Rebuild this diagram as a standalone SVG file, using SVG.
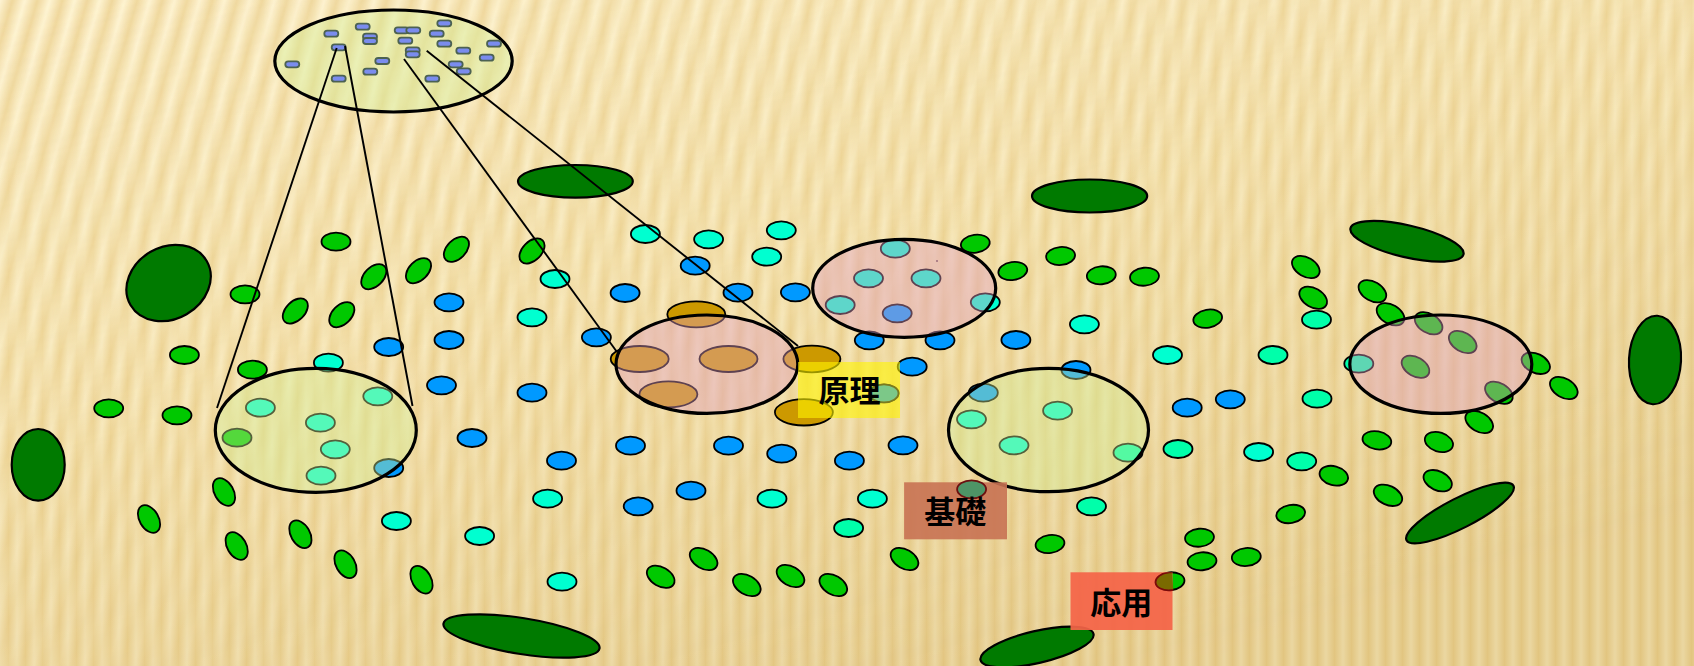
<svg xmlns="http://www.w3.org/2000/svg" xmlns:xlink="http://www.w3.org/1999/xlink" width="1694" height="666" viewBox="0 0 1694 666">
  <defs>
    <style>
      .dg { fill: #007A00; stroke: #000; stroke-width: 2.2; }
      .g  { fill: #00C800; stroke: #000; stroke-width: 1.8; }
      .c  { fill: #00FFD0; stroke: #000; stroke-width: 1.8; }
      .s  { fill: #00FFAA; stroke: #000; stroke-width: 1.8; }
      .b  { fill: #0099FF; stroke: #000; stroke-width: 1.8; }
      .au { fill: #CC9900; stroke: #000; stroke-width: 1.8; }
      .pale { fill: #D2F096; fill-opacity: 0.4; stroke: #000; stroke-width: 3.2; }
      .pink { fill: #E19DC2; fill-opacity: 0.42; stroke: #000; stroke-width: 3.2; }
      .chip { fill: #7A8CEE; stroke: #4C6252; stroke-width: 1.8; }
      .link { stroke: #000; stroke-width: 1.9; fill: none; }
      .lbl  { font-family: "Noto Sans CJK JP", "Noto Sans CJK SC", sans-serif; font-weight: 700; font-size: 31px; fill: #000; text-anchor: middle; }
    </style>
    <linearGradient id="bgGrad" x1="0" y1="0" x2="0.55" y2="1">
      <stop offset="0" stop-color="#FDF1CB"/>
      <stop offset="0.5" stop-color="#F2DEA6"/>
      <stop offset="1" stop-color="#E0C583"/>
    </linearGradient>
    <linearGradient id="band" x1="0" y1="0" x2="1" y2="0">
      <stop offset="0" stop-color="#FFF7DA" stop-opacity="0.6"/>
      <stop offset="0.5" stop-color="#E6C67E" stop-opacity="0.6"/>
      <stop offset="1" stop-color="#FFF7DA" stop-opacity="0.6"/>
    </linearGradient>
    <pattern id="slant" width="24" height="24" patternUnits="userSpaceOnUse" patternTransform="rotate(16)">
      <rect width="24" height="24" fill="url(#band)"/>
    </pattern>
    <pattern id="vert" width="17" height="17" patternUnits="userSpaceOnUse">
      <rect width="17" height="17" fill="url(#band)"/>
    </pattern>
    <linearGradient id="fadeSlant" x1="0" y1="0" x2="0.7" y2="1">
      <stop offset="0" stop-color="#fff" stop-opacity="1"/>
      <stop offset="0.5" stop-color="#fff" stop-opacity="0.45"/>
      <stop offset="1" stop-color="#fff" stop-opacity="0"/>
    </linearGradient>
    <linearGradient id="fadeVert" x1="0" y1="0" x2="0.7" y2="1">
      <stop offset="0" stop-color="#fff" stop-opacity="0"/>
      <stop offset="0.5" stop-color="#fff" stop-opacity="0.45"/>
      <stop offset="1" stop-color="#fff" stop-opacity="0.6"/>
    </linearGradient>
    <mask id="mSlant"><rect width="1694" height="666" fill="url(#fadeSlant)"/></mask>
    <mask id="mVert"><rect width="1694" height="666" fill="url(#fadeVert)"/></mask>
    <rect id="chipShape" class="chip" x="-7" y="-3" width="14" height="6" rx="3"/>
    <clipPath id="clipApply"><rect x="1070.5" y="572.3" width="102" height="57.7"/></clipPath>
  </defs>

  <!-- textured backdrop -->
  <g id="backdrop">
    <rect width="1694" height="666" fill="url(#bgGrad)"/>
    <rect width="1694" height="666" fill="url(#slant)" mask="url(#mSlant)"/>
    <rect width="1694" height="666" fill="url(#vert)" mask="url(#mVert)"/>
  </g>

  <!-- large dark-green blobs -->
  <g id="blobs">
    <ellipse class="dg" cx="575.4" cy="181.3" rx="57.4" ry="16.3"/>
    <ellipse class="dg" cx="1089.6" cy="196" rx="57.6" ry="16.5"/>
    <ellipse class="dg" cx="1407" cy="241.3" rx="58" ry="16" transform="rotate(13 1407 241.3)"/>
    <ellipse class="dg" cx="1655" cy="360" rx="26" ry="44.3" transform="rotate(3 1655 360)"/>
    <ellipse class="dg" cx="1460" cy="513" rx="60" ry="15" transform="rotate(-27 1460 513)"/>
    <ellipse class="dg" cx="1037" cy="647" rx="58" ry="16" transform="rotate(-13 1037 647)"/>
    <ellipse class="dg" cx="521.5" cy="636" rx="79" ry="18" transform="rotate(9 521.5 636)"/>
    <ellipse class="dg" cx="168.6" cy="283" rx="44" ry="36" transform="rotate(-30 168.6 283)"/>
    <ellipse class="dg" cx="38.2" cy="464.8" rx="26.5" ry="35.8"/>
  </g>

  <!-- scattered small ellipses -->
  <g id="dots">
    <!-- green, flat -->
    <ellipse class="g" cx="336" cy="241.7" rx="14.5" ry="9"/>
    <ellipse class="g" cx="245" cy="294.3" rx="14.5" ry="9"/>
    <ellipse class="g" cx="184.4" cy="355" rx="14.5" ry="9"/>
    <ellipse class="g" cx="252.4" cy="369.7" rx="14.5" ry="9"/>
    <ellipse class="g" cx="108.7" cy="408.3" rx="14.5" ry="9"/>
    <ellipse class="g" cx="177" cy="415.3" rx="14.5" ry="9"/>
    <ellipse class="g" cx="237" cy="437.7" rx="14.5" ry="9"/>
    <ellipse class="g" cx="975.3" cy="243.7" rx="14.5" ry="9" transform="rotate(-8 975.3 243.7)"/>
    <ellipse class="g" cx="1012.8" cy="271" rx="14.5" ry="9" transform="rotate(-8 1012.8 271)"/>
    <ellipse class="g" cx="1060.6" cy="256" rx="14.5" ry="9" transform="rotate(-5 1060.6 256)"/>
    <ellipse class="g" cx="1101.3" cy="275.3" rx="14.5" ry="9" transform="rotate(-5 1101.3 275.3)"/>
    <ellipse class="g" cx="1144.5" cy="276.7" rx="14.5" ry="9" transform="rotate(-5 1144.5 276.7)"/>
    <ellipse class="g" cx="1207.7" cy="318.7" rx="14.5" ry="9" transform="rotate(-10 1207.7 318.7)"/>
    <ellipse class="g" cx="1050" cy="544" rx="14.5" ry="9" transform="rotate(-8 1050 544)"/>
    <ellipse class="g" cx="1199.5" cy="537.7" rx="14.5" ry="9" transform="rotate(-5 1199.5 537.7)"/>
    <ellipse class="g" cx="1246.3" cy="557" rx="14.5" ry="9" transform="rotate(-5 1246.3 557)"/>
    <ellipse class="g" cx="1202" cy="561.3" rx="14.5" ry="9" transform="rotate(-5 1202 561.3)"/>
    <ellipse class="g" cx="1170" cy="581.3" rx="14.5" ry="9" transform="rotate(-5 1170 581.3)"/>
    <ellipse class="g" cx="1290.7" cy="514" rx="14.5" ry="9" transform="rotate(-10 1290.7 514)"/>
    <ellipse class="g" cx="1376.9" cy="440.3" rx="14.5" ry="9" transform="rotate(10 1376.9 440.3)"/>
    <ellipse class="g" cx="1438.9" cy="442" rx="14.5" ry="9.5" transform="rotate(18 1438.9 442)"/>
    <ellipse class="g" cx="1333.8" cy="475.7" rx="14.5" ry="9.5" transform="rotate(15 1333.8 475.7)"/>
    <!-- green, leaning up-right -->
    <ellipse class="g" cx="456.4" cy="249.3" rx="15" ry="9.5" transform="rotate(-45 456.4 249.3)"/>
    <ellipse class="g" cx="532" cy="251" rx="15" ry="9.5" transform="rotate(-45 532 251)"/>
    <ellipse class="g" cx="373.8" cy="276.7" rx="15" ry="9.5" transform="rotate(-45 373.8 276.7)"/>
    <ellipse class="g" cx="418.5" cy="270.7" rx="15" ry="9.5" transform="rotate(-45 418.5 270.7)"/>
    <ellipse class="g" cx="295.3" cy="311" rx="15" ry="9.5" transform="rotate(-45 295.3 311)"/>
    <ellipse class="g" cx="341.8" cy="314.7" rx="15" ry="9.5" transform="rotate(-45 341.8 314.7)"/>
    <!-- green, steep -->
    <ellipse class="g" cx="224" cy="492" rx="15" ry="9.5" transform="rotate(60 224 492)"/>
    <ellipse class="g" cx="149" cy="519" rx="15" ry="9.5" transform="rotate(60 149 519)"/>
    <ellipse class="g" cx="236.7" cy="546" rx="15" ry="9.5" transform="rotate(60 236.7 546)"/>
    <ellipse class="g" cx="300.4" cy="534.3" rx="15" ry="9.5" transform="rotate(60 300.4 534.3)"/>
    <ellipse class="g" cx="345.5" cy="564.3" rx="15" ry="9.5" transform="rotate(60 345.5 564.3)"/>
    <ellipse class="g" cx="421.5" cy="579.7" rx="15" ry="9.5" transform="rotate(60 421.5 579.7)"/>
    <!-- green, leaning down-right -->
    <ellipse class="g" cx="703.6" cy="559" rx="15" ry="9.5" transform="rotate(30 703.6 559)"/>
    <ellipse class="g" cx="660.7" cy="576.7" rx="15" ry="9.5" transform="rotate(30 660.7 576.7)"/>
    <ellipse class="g" cx="746.8" cy="585" rx="15" ry="9.5" transform="rotate(30 746.8 585)"/>
    <ellipse class="g" cx="790.5" cy="576" rx="15" ry="9.5" transform="rotate(30 790.5 576)"/>
    <ellipse class="g" cx="833.3" cy="585" rx="15" ry="9.5" transform="rotate(30 833.3 585)"/>
    <ellipse class="g" cx="904.5" cy="559" rx="15" ry="9.5" transform="rotate(30 904.5 559)"/>
    <ellipse class="g" cx="1305.8" cy="267" rx="15" ry="9.5" transform="rotate(30 1305.8 267)"/>
    <ellipse class="g" cx="1313.2" cy="297.7" rx="15" ry="9.5" transform="rotate(30 1313.2 297.7)"/>
    <ellipse class="g" cx="1372.4" cy="291.3" rx="15" ry="9.5" transform="rotate(30 1372.4 291.3)"/>
    <ellipse class="g" cx="1390.5" cy="314.3" rx="15" ry="9.5" transform="rotate(30 1390.5 314.3)"/>
    <ellipse class="g" cx="1428.6" cy="323.3" rx="15" ry="9.5" transform="rotate(30 1428.6 323.3)"/>
    <ellipse class="g" cx="1462.7" cy="342" rx="15" ry="9.5" transform="rotate(30 1462.7 342)"/>
    <ellipse class="g" cx="1415.5" cy="366.7" rx="15" ry="9.5" transform="rotate(30 1415.5 366.7)"/>
    <ellipse class="g" cx="1498.9" cy="392.7" rx="15" ry="9.5" transform="rotate(30 1498.9 392.7)"/>
    <ellipse class="g" cx="1535.8" cy="363.3" rx="15" ry="9.5" transform="rotate(25 1535.8 363.3)"/>
    <ellipse class="g" cx="1563.8" cy="388" rx="15" ry="9.5" transform="rotate(30 1563.8 388)"/>
    <ellipse class="g" cx="1479.2" cy="422" rx="15" ry="9.5" transform="rotate(30 1479.2 422)"/>
    <ellipse class="g" cx="1437.7" cy="480.7" rx="15" ry="9.5" transform="rotate(25 1437.7 480.7)"/>
    <ellipse class="g" cx="1388" cy="495.3" rx="15" ry="9.5" transform="rotate(25 1388 495.3)"/>

    <!-- cyan -->
    <ellipse class="c" cx="555" cy="279" rx="14.5" ry="9"/>
    <ellipse class="c" cx="532" cy="317.3" rx="14.5" ry="9"/>
    <ellipse class="c" cx="328.4" cy="362.7" rx="14.5" ry="9"/>
    <ellipse class="c" cx="547.6" cy="498.7" rx="14.5" ry="9"/>
    <ellipse class="c" cx="396.4" cy="521" rx="14.5" ry="9"/>
    <ellipse class="c" cx="479.6" cy="536" rx="14.5" ry="9"/>
    <ellipse class="c" cx="562" cy="581.7" rx="14.5" ry="9"/>
    <ellipse class="c" cx="260.4" cy="407.7" rx="14.5" ry="9"/>
    <ellipse class="c" cx="377.8" cy="396.3" rx="14.5" ry="9"/>
    <ellipse class="c" cx="320.4" cy="422.7" rx="14.5" ry="9"/>
    <ellipse class="c" cx="335.3" cy="449.3" rx="14.5" ry="9"/>
    <ellipse class="c" cx="321" cy="475.7" rx="14.5" ry="9"/>
    <ellipse class="c" cx="645.4" cy="234" rx="14.5" ry="9"/>
    <ellipse class="c" cx="708.6" cy="239.3" rx="14.5" ry="9"/>
    <ellipse class="c" cx="781.3" cy="230.3" rx="14.5" ry="9"/>
    <ellipse class="c" cx="766.7" cy="256.7" rx="14.5" ry="9"/>
    <ellipse class="c" cx="1084.4" cy="324.3" rx="14.5" ry="9"/>
    <ellipse class="c" cx="772" cy="498.7" rx="14.5" ry="9"/>
    <ellipse class="c" cx="872.4" cy="498.7" rx="14.5" ry="9"/>
    <ellipse class="c" cx="895.3" cy="248.7" rx="14.5" ry="9"/>
    <ellipse class="c" cx="868.5" cy="278.3" rx="14.5" ry="9"/>
    <ellipse class="c" cx="926" cy="278.3" rx="14.5" ry="9"/>
    <ellipse class="c" cx="840.2" cy="305" rx="14.5" ry="9"/>
    <ellipse class="c" cx="985.3" cy="302.3" rx="14.5" ry="9"/>
    <ellipse class="c" cx="971.5" cy="419.3" rx="14.5" ry="9"/>
    <ellipse class="c" cx="1057.6" cy="410.7" rx="14.5" ry="9"/>
    <ellipse class="c" cx="1014" cy="445.3" rx="14.5" ry="9"/>
    <ellipse class="c" cx="1167.5" cy="355" rx="14.5" ry="9"/>
    <ellipse class="c" cx="1258.6" cy="452" rx="14.5" ry="9"/>
    <!-- spring green -->
    <ellipse class="s" cx="848.6" cy="528" rx="14.5" ry="9"/>
    <ellipse class="s" cx="1128" cy="452.7" rx="14.5" ry="9"/>
    <ellipse class="s" cx="1316.5" cy="319.7" rx="14.5" ry="9"/>
    <ellipse class="s" cx="1273" cy="355" rx="14.5" ry="9"/>
    <ellipse class="s" cx="1317" cy="398.7" rx="14.5" ry="9"/>
    <ellipse class="s" cx="1178" cy="449" rx="14.5" ry="9"/>
    <ellipse class="s" cx="1301.7" cy="461.3" rx="14.5" ry="9"/>
    <ellipse class="s" cx="1091.5" cy="506.3" rx="14.5" ry="9"/>
    <ellipse class="s" cx="1358.8" cy="363.7" rx="14.5" ry="9"/>

    <!-- blue -->
    <ellipse class="b" cx="449" cy="302.3" rx="14.5" ry="9"/>
    <ellipse class="b" cx="449" cy="340" rx="14.5" ry="9"/>
    <ellipse class="b" cx="388.7" cy="347" rx="14.5" ry="9"/>
    <ellipse class="b" cx="441.5" cy="385.3" rx="14.5" ry="9"/>
    <ellipse class="b" cx="532" cy="392.7" rx="14.5" ry="9"/>
    <ellipse class="b" cx="472" cy="438" rx="14.5" ry="9"/>
    <ellipse class="b" cx="561.5" cy="460.7" rx="14.5" ry="9"/>
    <ellipse class="b" cx="388.7" cy="468" rx="14.5" ry="9"/>
    <ellipse class="b" cx="695.2" cy="265.7" rx="14.5" ry="9"/>
    <ellipse class="b" cx="625.1" cy="293" rx="14.5" ry="9"/>
    <ellipse class="b" cx="738" cy="292.7" rx="14.5" ry="9"/>
    <ellipse class="b" cx="795.4" cy="292.3" rx="14.5" ry="9"/>
    <ellipse class="b" cx="596.4" cy="337.3" rx="14.5" ry="9"/>
    <ellipse class="b" cx="869.3" cy="340.3" rx="14.5" ry="9"/>
    <ellipse class="b" cx="940" cy="340.3" rx="14.5" ry="9"/>
    <ellipse class="b" cx="1015.9" cy="340" rx="14.5" ry="9"/>
    <ellipse class="b" cx="912.2" cy="366.7" rx="14.5" ry="9"/>
    <ellipse class="b" cx="1076" cy="370" rx="14.5" ry="9"/>
    <ellipse class="b" cx="630.5" cy="445.7" rx="14.5" ry="9"/>
    <ellipse class="b" cx="728.5" cy="445.7" rx="14.5" ry="9"/>
    <ellipse class="b" cx="781.7" cy="453.7" rx="14.5" ry="9"/>
    <ellipse class="b" cx="849.4" cy="460.7" rx="14.5" ry="9"/>
    <ellipse class="b" cx="903" cy="445.3" rx="14.5" ry="9"/>
    <ellipse class="b" cx="691" cy="490.7" rx="14.5" ry="9"/>
    <ellipse class="b" cx="638.2" cy="506.3" rx="14.5" ry="9"/>
    <ellipse class="b" cx="897.2" cy="313.3" rx="14.5" ry="9"/>
    <ellipse class="b" cx="983.3" cy="392.7" rx="14.5" ry="9"/>
    <ellipse class="b" cx="1187.2" cy="407.7" rx="14.5" ry="9"/>
    <ellipse class="b" cx="1230.3" cy="399.3" rx="14.5" ry="9"/>
    <ellipse class="b" cx="884" cy="393.3" rx="14.5" ry="9"/>

    <!-- gold -->
    <ellipse class="au" cx="696.3" cy="314.3" rx="29" ry="13"/>
    <ellipse class="au" cx="639.7" cy="359" rx="29" ry="13"/>
    <ellipse class="au" cx="728.5" cy="359" rx="29" ry="13"/>
    <ellipse class="au" cx="811.9" cy="359" rx="28.5" ry="13.3"/>
    <ellipse class="au" cx="668.4" cy="394.3" rx="29" ry="13"/>
    <ellipse class="au" cx="803.9" cy="412.3" rx="29" ry="13.2"/>

    <circle cx="937" cy="261" r="1" fill="#6a4a4a"/>
  </g>

  <!-- cluster outlines -->
  <g id="cluster-top">
    <ellipse class="pale" cx="393.5" cy="61" rx="118.7" ry="51"/>
    <use xlink:href="#chipShape" x="331.3" y="33.7"/>
    <use xlink:href="#chipShape" x="362.7" y="26.7"/>
    <use xlink:href="#chipShape" x="370" y="36.7"/>
    <use xlink:href="#chipShape" x="370" y="41"/>
    <use xlink:href="#chipShape" x="401.7" y="30.3"/>
    <use xlink:href="#chipShape" x="413.3" y="30.3"/>
    <use xlink:href="#chipShape" x="444.3" y="23.3"/>
    <use xlink:href="#chipShape" x="436.7" y="33.7"/>
    <use xlink:href="#chipShape" x="405.3" y="40.7"/>
    <use xlink:href="#chipShape" x="412.7" y="50.3"/>
    <use xlink:href="#chipShape" x="412.7" y="54.3"/>
    <use xlink:href="#chipShape" x="444.3" y="43.7"/>
    <use xlink:href="#chipShape" x="463.3" y="50.7"/>
    <use xlink:href="#chipShape" x="494" y="43.7"/>
    <use xlink:href="#chipShape" x="486.7" y="57.7"/>
    <use xlink:href="#chipShape" x="455.7" y="64.3"/>
    <use xlink:href="#chipShape" x="463.7" y="71.3"/>
    <use xlink:href="#chipShape" x="432.3" y="78.7"/>
    <use xlink:href="#chipShape" x="382.3" y="61"/>
    <use xlink:href="#chipShape" x="370.3" y="71.7"/>
    <use xlink:href="#chipShape" x="338.7" y="78.7"/>
    <use xlink:href="#chipShape" x="292.3" y="64.3"/>
    <use xlink:href="#chipShape" x="338.7" y="47.3"/>
  </g>
  <g id="cluster-left"><ellipse class="pale" cx="315.8" cy="430.3" rx="100.5" ry="62"/></g>
  <g id="cluster-mid"><ellipse class="pale" cx="1048.5" cy="430" rx="100" ry="61.7"/></g>
  <g id="cluster-gold"><ellipse class="pink" cx="706.9" cy="364.2" rx="90.9" ry="49.2"/></g>
  <g id="cluster-teal"><ellipse class="pink" cx="904.2" cy="288.3" rx="91.5" ry="49"/></g>
  <g id="cluster-right"><ellipse class="pink" cx="1440.8" cy="364.2" rx="91" ry="49.2"/></g>

  <!-- labels -->
  <g id="label-genri">
    <rect x="798" y="362" width="102" height="56" fill="#FFF500" fill-opacity="0.6"/>
    <ellipse cx="884" cy="393.3" rx="14.5" ry="9" fill="#7CC888" stroke="#7A7A20" stroke-width="1.8"/>
    <text class="lbl" x="849.5" y="402">原理</text>
  </g>
  <g id="label-kiso">
    <rect x="904.1" y="482.3" width="102.9" height="57" fill="#C87253" fill-opacity="0.9"/>
    <ellipse cx="971.6" cy="489.3" rx="14.5" ry="9" fill="#4E9466" stroke="#6B1010" stroke-width="1.8"/>
    <text class="lbl" x="955.2" y="523">基礎</text>
  </g>
  <g id="label-ouyou">
    <rect x="1070.5" y="572.3" width="102" height="57.7" fill="#F46448" fill-opacity="0.93"/>
    <ellipse cx="1170" cy="581.3" rx="14.5" ry="9" transform="rotate(-5 1170 581.3)" fill="#7A6A00" stroke="#7A0A0A" stroke-width="1.8" clip-path="url(#clipApply)"/>
    <text class="lbl" x="1121.3" y="614">応用</text>
  </g>

  <!-- connectors from the top cluster -->
  <g id="connectors">
    <line class="link" x1="336.7" y1="48" x2="217" y2="408"/>
    <line class="link" x1="345" y1="46" x2="412.5" y2="406"/>
    <line class="link" x1="404" y1="59" x2="617" y2="352"/>
    <line class="link" x1="426.7" y1="50.7" x2="798" y2="346"/>
  </g>
</svg>
